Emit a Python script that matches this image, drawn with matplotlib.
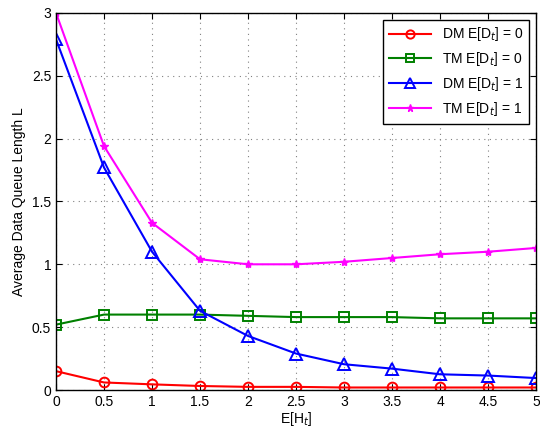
import matplotlib
matplotlib.use("Agg")
import matplotlib.pyplot as plt

plt.rcParams['font.family'] = ['Liberation Sans', 'DejaVu Sans']

x = [0, 0.5, 1, 1.5, 2, 2.5, 3, 3.5, 4, 4.5, 5]
dm0 = [0.15, 0.06, 0.045, 0.032, 0.025, 0.025, 0.02, 0.02, 0.02, 0.02, 0.02]
tm0 = [0.52, 0.60, 0.60, 0.60, 0.59, 0.58, 0.58, 0.58, 0.57, 0.57, 0.57]
dm1 = [2.79, 1.77, 1.10, 0.63, 0.43, 0.29, 0.205, 0.17, 0.125, 0.115, 0.095]
tm1 = [3.0, 1.94, 1.33, 1.04, 1.0, 1.0, 1.02, 1.05, 1.08, 1.10, 1.13]

labels = ['DM E[D$_t$] = 0', 'TM E[D$_t$] = 0', 'DM E[D$_t$] = 1', 'TM E[D$_t$] = 1']

fig = plt.figure(figsize=(5.4, 4.32), dpi=100)
ax = fig.add_axes([0.1037, 0.0972, 0.889, 0.873])

ax.plot(x, dm0, color='red', marker='o', mfc='none', ms=7, mew=1.4, lw=1.5, label=labels[0])
ax.plot(x, tm0, color='green', marker='s', mfc='none', ms=6.5, mew=1.4, lw=1.5, label=labels[1])
ax.plot(x, dm1, color='blue', marker='^', mfc='none', ms=8, mew=1.4, lw=1.5, label=labels[2])
ax.plot(x, tm1, color='magenta', marker='*', ms=6, lw=1.5, label=labels[3])

ax.set_xlim(0, 5)
ax.set_ylim(0, 3)
ax.set_xticks(x)
ax.set_xticklabels(['0', '0.5', '1', '1.5', '2', '2.5', '3', '3.5', '4', '4.5', '5'])
ax.set_yticks([0, 0.5, 1, 1.5, 2, 2.5, 3])
ax.set_yticklabels(['0', '0.5', '1', '1.5', '2', '2.5', '3'])
ax.tick_params(direction='in', labelsize=10, top=True, right=True, length=4)
ax.grid(True, linestyle=(0, (1, 4)), color='gray', lw=0.8)
for s in ax.spines.values():
    s.set_linewidth(1.0)
ax.set_xlabel('E[H$_t$]', fontsize=10, labelpad=1)
ax.set_ylabel('Average Data Queue Length L', fontsize=10)
leg = ax.legend(loc='upper right', fontsize=10, fancybox=False, edgecolor='black',
                framealpha=1, handlelength=3, borderaxespad=0.5, markerscale=0.85)
leg.get_frame().set_linewidth(1.0)

fig.savefig('out.png', dpi=100)
